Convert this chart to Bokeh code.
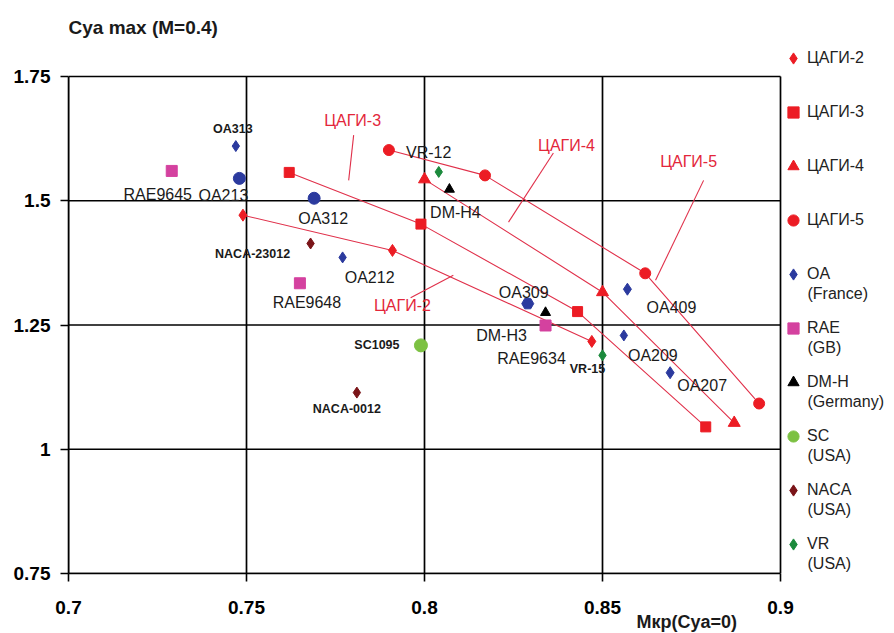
from bokeh.plotting import figure
from bokeh.models import (ColumnDataSource, Label, FixedTicker, Range1d, Title, Legend,
                          LegendItem)
from bokeh.core.properties import value
from bokeh.embed import file_html
from bokeh.resources import INLINE

# ---------------- data ----------------
tsagi2_x = [0.749, 0.791, 0.847]
tsagi2_y = [1.471, 1.400, 1.217]
tsagi3_x = [0.762, 0.799, 0.843, 0.879]
tsagi3_y = [1.557, 1.453, 1.277, 1.045]
tsagi4_x = [0.800, 0.850, 0.887]
tsagi4_y = [1.543, 1.316, 1.053]
tsagi5_x = [0.790, 0.817, 0.862, 0.894]
tsagi5_y = [1.602, 1.551, 1.354, 1.092]

oa_names = ["OA313", "OA213", "OA312", "OA212", "OA309", "OA409", "OA209", "OA207"]
oa_x = [0.747, 0.748, 0.769, 0.777, 0.829, 0.857, 0.856, 0.869]
oa_y = [1.610, 1.545, 1.505, 1.386, 1.293, 1.322, 1.229, 1.154]

rae_names = ["RAE9645", "RAE9648", "RAE9634"]
rae_x = [0.729, 0.765, 0.834]
rae_y = [1.560, 1.334, 1.249]

dmh_names = ["DM-H4", "DM-H3"]
dmh_x = [0.807, 0.834]
dmh_y = [1.523, 1.275]

sc_names = ["SC1095"]
sc_x = [0.799]
sc_y = [1.209]

naca_names = ["NACA-23012", "NACA-0012"]
naca_x = [0.768, 0.781]
naca_y = [1.414, 1.114]

vr_names = ["VR-12", "VR-15"]
vr_x = [0.804, 0.850]
vr_y = [1.558, 1.189]

x_ticks = [0.7, 0.75, 0.8, 0.85, 0.9]
x_tick_labels = ["0.7", "0.75", "0.8", "0.85", "0.9"]
y_ticks = [0.75, 1.0, 1.25, 1.5, 1.75]
y_tick_labels = ["0.75", "1", "1.25", "1.5", "1.75"]

legend_labels = ["ЦАГИ-2", "ЦАГИ-3", "ЦАГИ-4", "ЦАГИ-5", "OA", "RAE", "DM-H", "SC", "NACA", "VR"]
legend_second = ["", "", "", "", "(France)", "(GB)", "(Germany)", "(USA)", "(USA)", "(USA)"]

# ---------------- styles / layout ----------------
RED = "#ec1c24"
LINE_RED = "#e0304a"
BLUE = "#2b3a9e"
MAGENTA = "#d4419f"
GREEN_LIGHT = "#7cc142"
NACA_C = "#7a1418"
VR_C = "#1b8a3c"
FONT = "Liberation Sans"
TXT = "#1a1a1a"

oa_markers = ["diamond", "circle", "circle", "diamond", "hex", "diamond", "diamond", "diamond"]
oa_sizes = [11, 12, 12, 11, 12, 12, 11, 12]

# label offsets in screen pixels (dx right, dy down)
label_offsets = {
    "OA313": (-3, -17), "OA213": (-16, 17), "OA312": (9, 20), "OA212": (27, 20),
    "OA309": (-4, -11), "OA409": (44, 18), "OA209": (29, 20), "OA207": (32, 13),
    "RAE9645": (-14, 24), "RAE9648": (7, 19), "RAE9634": (-14, 33),
    "DM-H4": (6, 23), "DM-H3": (-44, 23),
    "SC1095": (-44, 0),
    "NACA-23012": (-58, 11), "NACA-0012": (-10, 16),
    "VR-12": (-10, -19), "VR-15": (-15, 14),
}
small_bold = {"OA313", "SC1095", "NACA-23012", "NACA-0012", "VR-15"}

# ЦАГИ curve callouts (label position, leader start, leader end) in data units
callouts = [
    ("ЦАГИ-3", (0.7798, 1.662), (0.7801, 1.632), (0.7787, 1.541)),
    ("ЦАГИ-4", (0.8399, 1.612), (0.8362, 1.596), (0.8236, 1.457)),
    ("ЦАГИ-5", (0.8742, 1.578), (0.8784, 1.541), (0.8649, 1.340)),
    ("ЦАГИ-2", (0.7938, 1.289), (0.7961, 1.305), (0.8081, 1.350)),
]

W, H = 893, 632
BOX_L, BOX_R, BOX_T, BOX_B = 68, 780, 76, 573       # pixel box of the 0.7-0.9 x 0.75-1.75 area
XMIN, XMAX, YMIN, YMAX = x_ticks[0], x_ticks[-1], y_ticks[0], y_ticks[-1]
PX_X = (BOX_R - BOX_L) / (XMAX - XMIN)
PX_Y = (BOX_B - BOX_T) / (YMAX - YMIN)


def px2x(px):
    return XMIN + (px - BOX_L) / PX_X


def px2y(py):
    return YMAX - (py - BOX_T) / PX_Y


p = figure(width=W, height=H, output_backend="svg", toolbar_location=None, title=None,
           x_range=Range1d(XMIN, px2x(W)), y_range=Range1d(YMIN, px2y(0)),
           min_border_left=BOX_L, min_border_right=0, min_border_top=0,
           min_border_bottom=H - BOX_B,
           background_fill_color="white", border_fill_color="white")
p.outline_line_color = None
p.xgrid.visible = False
p.ygrid.visible = False

for ax, ticks, labels in ((p.xaxis[0], x_ticks, x_tick_labels), (p.yaxis[0], y_ticks, y_tick_labels)):
    ax.ticker = FixedTicker(ticks=ticks)
    ax.bounds = (ticks[0], ticks[-1])
    ax.major_label_overrides = {t: l for t, l in zip(ticks, labels)}
    ax.major_label_text_font = FONT
    ax.major_label_text_font_style = "bold"
    ax.major_label_text_font_size = "19px"
    ax.major_label_text_color = "black"
    ax.axis_line_color = "black"
    ax.axis_line_width = 1.6
    ax.major_tick_line_color = "black"
    ax.major_tick_line_width = 1.6
    ax.major_tick_in = 0
    ax.major_tick_out = 8
    ax.minor_tick_line_color = None
p.xaxis.major_label_standoff = 19
p.yaxis.major_label_standoff = 10

p.add_layout(Title(text="Мкр(Cya=0)", align="left", offset=568, standoff=-13,
                   text_font=FONT, text_font_size="18px", text_font_style="bold",
                   text_color=TXT), "below")

# grid box, drawn from the tick values
p.segment(x0=x_ticks, y0=[YMIN] * len(x_ticks), x1=x_ticks, y1=[YMAX] * len(x_ticks),
          line_color="black", line_width=1.7)
p.segment(x0=[XMIN] * len(y_ticks), y0=y_ticks, x1=[XMAX] * len(y_ticks), y1=y_ticks,
          line_color="black", line_width=1.7)

# title
p.add_layout(Label(x=XMIN, y=px2y(27), text="Cya max (M=0.4)", text_font=FONT,
                   text_font_size="19px", text_font_style="bold", text_color=TXT,
                   text_align="left", text_baseline="middle"))

# ЦАГИ curves
for xs, ys in ((tsagi2_x, tsagi2_y), (tsagi3_x, tsagi3_y), (tsagi4_x, tsagi4_y), (tsagi5_x, tsagi5_y)):
    p.line(xs, ys, line_color=LINE_RED, line_width=1.1)

# callouts
for txt, (lx, ly), (ax0, ay0), (ax1, ay1) in callouts:
    p.segment(x0=[ax0], y0=[ay0], x1=[ax1], y1=[ay1], line_color=LINE_RED, line_width=1.1)
    p.add_layout(Label(x=lx, y=ly, text=txt, text_font=FONT, text_font_size="16px",
                       text_color="#e3263a", text_align="center", text_baseline="middle"))

r_t2 = p.scatter(tsagi2_x, tsagi2_y, marker="diamond", size=12, color=RED)
r_t3 = p.scatter(tsagi3_x, tsagi3_y, marker="square", size=10, color=RED)
r_t4 = p.scatter(tsagi4_x, tsagi4_y, marker="triangle", size=12, color=RED)
r_t5 = p.scatter(tsagi5_x, tsagi5_y, marker="circle", size=11, color=RED)

oa_src = ColumnDataSource(dict(x=oa_x, y=oa_y, m=oa_markers, s=oa_sizes))
r_oa = p.scatter("x", "y", marker="m", size="s", color=BLUE, source=oa_src)
r_rae = p.scatter(rae_x, rae_y, marker="square", size=11, color=MAGENTA)
r_dmh = p.scatter(dmh_x, dmh_y, marker="triangle", size=10, color="black")
r_sc = p.scatter(sc_x, sc_y, marker="circle", size=13, color=GREEN_LIGHT)
r_naca = p.scatter(naca_x, naca_y, marker="diamond", size=11, color=NACA_C)
r_vr = p.scatter(vr_x, vr_y, marker="diamond", size=11, color=VR_C)

# point labels
all_names = oa_names + rae_names + dmh_names + sc_names + naca_names + vr_names
all_x = oa_x + rae_x + dmh_x + sc_x + naca_x + vr_x
all_y = oa_y + rae_y + dmh_y + sc_y + naca_y + vr_y
reg = dict(x=[], y=[], t=[], dx=[], dy=[])
bold = dict(x=[], y=[], t=[], dx=[], dy=[])
for n, xx, yy in zip(all_names, all_x, all_y):
    d = bold if n in small_bold else reg
    d["x"].append(xx); d["y"].append(yy); d["t"].append(n)
    d["dx"].append(label_offsets[n][0]); d["dy"].append(label_offsets[n][1])
p.text("x", "y", text="t", x_offset="dx", y_offset="dy", source=ColumnDataSource(reg),
       text_font=value(FONT), text_font_size="16px", text_color=TXT,
       text_align="center", text_baseline="middle")
p.text("x", "y", text="t", x_offset="dx", y_offset="dy", source=ColumnDataSource(bold),
       text_font=value(FONT), text_font_size="12.5px", text_font_style="bold",
       text_color=TXT, text_align="center", text_baseline="middle")

# ---------------- legend ----------------
renderers = [r_t2, r_t3, r_t4, r_t5, r_oa, r_rae, r_dmh, r_sc, r_naca, r_vr]
items = [LegendItem(label=l, renderers=[r], index=0) for l, r in zip(legend_labels, renderers)]
LEG_TOP, LEG_STEP, ITEM_H = 58, 54, 28
GLYPH_CX, TEXT_X = 793, 807
n_items = len(items)
leg_h = n_items * ITEM_H + (n_items - 1) * (LEG_STEP - ITEM_H)
leg_top_px = LEG_TOP - ITEM_H // 2
legend = Legend(items=items,
                location=(int(GLYPH_CX - ITEM_H // 2 - BOX_L), int(BOX_B - (leg_top_px + leg_h))),
                orientation="vertical", glyph_width=ITEM_H, glyph_height=ITEM_H,
                label_height=ITEM_H, spacing=int(LEG_STEP - ITEM_H), padding=0, margin=0,
                label_standoff=max(0, int(TEXT_X - (GLYPH_CX + ITEM_H // 2))),
                label_text_font=FONT, label_text_font_size="16px", label_text_color="#222222",
                border_line_color=None, background_fill_alpha=0)
p.add_layout(legend, "center")

sec_y = [px2y(LEG_TOP + LEG_STEP * i + 19) for i, t in enumerate(legend_second) if t]
sec_t = [t for t in legend_second if t]
p.text([px2x(TEXT_X)] * len(sec_y), sec_y, text=sec_t, text_font=value(FONT),
       text_font_size="16px", text_color="#222222", text_align="left", text_baseline="middle")

open("out.html", "w").write(file_html(p, INLINE))
